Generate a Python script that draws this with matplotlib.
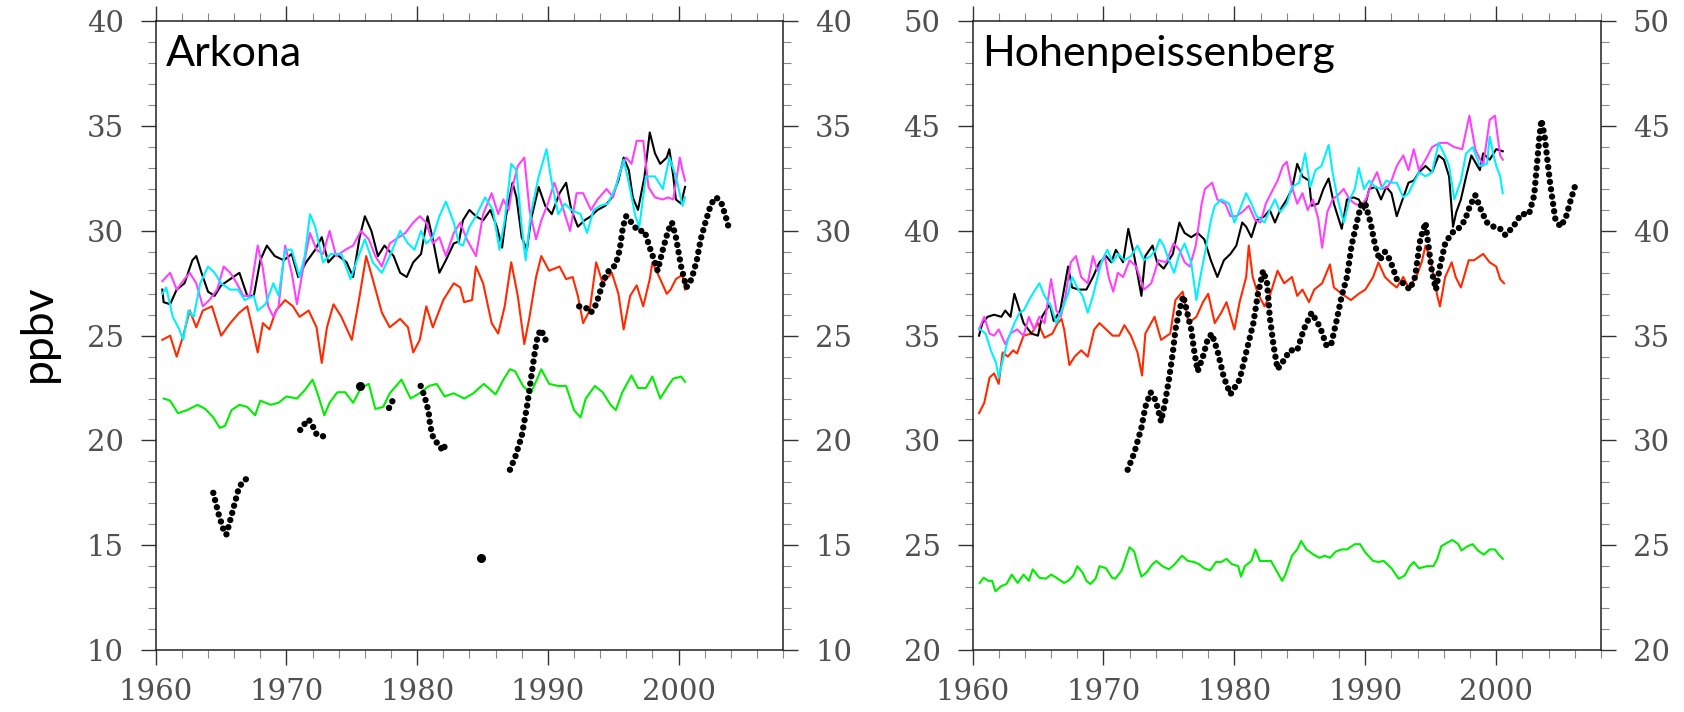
"""
Surface ozone at Arkona and Hohenpeissenberg: four model runs (black, magenta,
cyan, red), a background run (green) and the smoothed observations (dots).
Values are read off the published figure, roughly every half year.
"""

import numpy as np
import matplotlib
matplotlib.use("Agg")
import matplotlib.pyplot as plt
from matplotlib.ticker import MultipleLocator

# ---------------------------------------------------------------------------
# Arkona
# ---------------------------------------------------------------------------

ark_red_t = [1960.5, 1961.1, 1961.6, 1962.1, 1962.6, 1963.1, 1963.6, 1964.3, 1964.7, 1965.0,
             1965.7, 1966.4, 1967.0, 1967.3, 1967.8, 1968.2, 1968.7, 1969.2, 1969.9, 1970.5,
             1971.0, 1971.7, 1972.3, 1972.7, 1973.1, 1973.6, 1974.2, 1975.0, 1975.6, 1976.1,
             1976.6, 1977.3, 1977.9, 1978.7, 1979.3, 1979.7, 1980.2, 1980.7, 1981.2, 1982.0,
             1982.8, 1983.3, 1983.6, 1984.2, 1984.5, 1985.05, 1985.7, 1986.2, 1986.7, 1987.2,
             1987.7, 1988.2, 1988.6, 1989.1, 1989.5, 1990.1, 1990.9, 1991.4, 1991.9, 1992.3,
             1992.7, 1993.2, 1993.7, 1994.2, 1994.9, 1995.4, 1995.8, 1996.3, 1996.8, 1997.3,
             1997.8, 1998.0, 1998.6, 1999.1, 1999.4, 1999.8, 2000.3, 2000.5]
ark_red_v = [24.8, 25.0, 24.0, 25.0, 26.2, 25.4, 26.2, 26.4, 25.6, 25.0,
             25.6, 26.1, 26.4, 25.6, 24.2, 25.6, 25.3, 26.2, 26.7, 26.4,
             25.9, 26.2, 25.4, 23.7, 25.4, 26.5, 25.9, 24.8, 26.9, 28.8,
             27.7, 26.1, 25.4, 25.8, 25.4, 24.2, 24.8, 26.4, 25.4, 26.7,
             27.5, 27.3, 26.6, 26.7, 28.3, 27.5, 25.6, 25.1, 26.4, 28.5,
             26.9, 24.6, 25.9, 27.8, 28.8, 28.1, 28.3, 27.7, 27.8, 26.9,
             25.6, 26.2, 28.5, 27.5, 28.0, 27.0, 25.3, 26.9, 27.4, 26.4,
             27.7, 28.5, 27.7, 27.0, 27.2, 27.7, 27.9, 27.2]

ark_black_t = [1960.5, 1960.6, 1961.1, 1961.6, 1962.2, 1962.8, 1963.1, 1963.5, 1964.0, 1964.5,
               1965.0, 1965.7, 1966.4, 1967.0, 1967.5, 1968.0, 1968.5, 1969.1, 1969.8, 1970.4,
               1970.9, 1971.5, 1972.2, 1972.7, 1973.2, 1973.8, 1974.6, 1975.1, 1975.6, 1976.0,
               1976.5, 1977.0, 1977.5, 1978.2, 1978.7, 1979.2, 1979.7, 1980.3, 1980.8, 1981.2,
               1981.7, 1982.2, 1982.8, 1983.2, 1983.5, 1984.0, 1984.5, 1985.05, 1985.6, 1986.1,
               1986.5, 1986.8, 1987.3, 1987.6, 1988.0, 1988.4, 1988.7, 1989.3, 1989.8, 1990.3,
               1990.9, 1991.4, 1991.8, 1992.3, 1992.8, 1993.3, 1993.8, 1994.4, 1994.9, 1995.4,
               1995.8, 1996.2, 1996.5, 1996.9, 1997.4, 1997.8, 1998.2, 1998.6, 1999.1, 1999.3,
               1999.6, 1999.8, 2000.2, 2000.5]
ark_black_v = [27.2, 26.6, 26.5, 27.2, 27.5, 28.6, 28.8, 28.0, 27.1, 26.9,
               27.4, 27.7, 28.0, 26.9, 26.9, 28.6, 29.3, 28.8, 28.6, 28.9,
               27.8, 28.5, 29.1, 29.7, 28.5, 28.9, 28.5, 27.8, 29.7, 30.7,
               30.0, 28.8, 29.3, 28.8, 28.0, 27.8, 28.5, 28.9, 30.7, 29.6,
               28.0, 28.6, 29.4, 29.5, 30.5, 31.0, 30.7, 30.5, 31.0, 30.2,
               29.2, 30.7, 32.3, 31.6, 29.7, 29.1, 30.5, 32.1, 31.2, 30.8,
               31.8, 32.3, 31.0, 30.2, 30.5, 30.7, 31.0, 31.2, 31.6, 32.4,
               33.5, 32.9, 31.6, 31.0, 32.6, 34.7, 33.7, 33.2, 33.5, 33.9,
               32.6, 31.5, 31.3, 32.1]

ark_mag_t = [1960.5, 1961.1, 1961.6, 1962.2, 1962.6, 1963.1, 1963.6, 1964.1, 1964.7, 1965.2,
             1965.7, 1966.2, 1966.7, 1967.2, 1967.8, 1968.2, 1968.6, 1969.0, 1969.4, 1969.9,
             1970.4, 1970.8, 1971.3, 1971.8, 1972.3, 1972.8, 1973.3, 1973.8, 1974.5, 1975.1,
             1975.7, 1976.3, 1976.8, 1977.3, 1977.9, 1978.6, 1979.1, 1979.7, 1980.2, 1980.7,
             1981.2, 1981.7, 1982.2, 1982.8, 1983.3, 1983.8, 1984.5, 1985.05, 1985.7, 1986.2,
             1986.6, 1987.0, 1987.3, 1987.7, 1988.2, 1988.6, 1989.1, 1989.5, 1990.0, 1990.5,
             1991.2, 1991.7, 1992.2, 1992.7, 1993.3, 1993.8, 1994.5, 1995.0, 1995.5, 1996.0,
             1996.4, 1996.8, 1997.3, 1997.7, 1998.2, 1998.8, 1999.2, 1999.6, 2000.1, 2000.3,
             2000.5]
ark_mag_v = [27.6, 28.0, 27.2, 27.7, 28.0, 27.5, 26.4, 26.7, 27.2, 28.3,
             28.0, 27.5, 26.9, 26.9, 29.3, 28.2, 26.4, 25.9, 26.4, 29.3,
             28.0, 26.5, 28.3, 29.9, 29.1, 28.9, 30.0, 28.8, 29.1, 29.3,
             30.0, 29.6, 28.8, 28.3, 29.4, 29.7, 29.9, 30.4, 30.7, 30.4,
             29.4, 29.7, 28.8, 29.9, 30.4, 29.6, 28.8, 30.8, 31.8, 30.8,
             31.5, 31.0, 32.1, 33.1, 33.5, 31.0, 29.6, 30.5, 31.3, 32.3,
             31.0, 30.0, 31.8, 31.8, 31.0, 31.5, 32.0, 31.6, 32.8, 33.5,
             33.2, 34.3, 34.3, 32.1, 31.6, 31.5, 31.6, 31.5, 33.5, 32.9,
             32.4]

ark_cyan_t = [1960.5, 1960.8, 1961.3, 1961.8, 1962.1, 1962.5, 1962.9, 1963.4, 1964.0, 1964.5,
              1965.0, 1965.7, 1966.3, 1966.8, 1967.5, 1967.8, 1968.4, 1969.0, 1969.4, 1969.9,
              1970.4, 1971.0, 1971.4, 1971.8, 1972.2, 1972.8, 1973.4, 1974.2, 1974.9, 1975.4,
              1976.0, 1976.6, 1977.3, 1977.9, 1978.7, 1979.3, 1979.8, 1980.3, 1980.7, 1981.2,
              1981.7, 1982.2, 1982.8, 1983.2, 1983.5, 1984.0, 1984.5, 1985.2, 1985.8, 1986.3,
              1986.7, 1987.2, 1987.6, 1988.0, 1988.3, 1988.7, 1989.3, 1989.9, 1990.3, 1990.8,
              1991.3, 1991.8, 1992.5, 1993.0, 1993.5, 1994.0, 1994.6, 1995.2, 1995.8, 1996.2,
              1996.7, 1997.0, 1997.5, 1998.2, 1998.8, 1999.3, 1999.8, 2000.3, 2000.5]
ark_cyan_v = [27.0, 27.3, 25.9, 25.3, 24.8, 26.2, 25.9, 27.5, 28.3, 28.0,
              27.5, 27.2, 27.2, 26.7, 26.9, 26.2, 26.5, 27.5, 26.9, 29.1,
              29.1, 27.8, 28.8, 30.8, 30.2, 28.5, 28.9, 28.9, 27.7, 28.6,
              29.6, 28.5, 28.0, 28.8, 30.0, 29.4, 29.1, 30.0, 29.4, 29.7,
              30.7, 31.4, 30.4, 29.4, 29.3, 30.2, 30.7, 31.6, 31.0, 29.1,
              30.5, 33.2, 32.9, 30.2, 28.6, 30.8, 32.6, 33.9, 32.3, 30.8,
              31.3, 31.0, 30.8, 29.9, 31.0, 31.2, 31.3, 32.1, 33.4, 32.3,
              30.7, 30.2, 32.6, 32.6, 32.0, 33.5, 32.6, 31.2, 31.6]

ark_green_t = [1960.6, 1961.1, 1961.7, 1962.4, 1963.2, 1963.8, 1964.4, 1964.9, 1965.3, 1965.8,
               1966.4, 1967.0, 1967.6, 1968.0, 1968.8, 1969.4, 1970.0, 1970.8, 1971.4, 1972.0,
               1972.4, 1972.9, 1973.3, 1973.9, 1974.5, 1975.1, 1975.7, 1976.3, 1976.8, 1977.4,
               1977.9, 1978.8, 1979.5, 1980.3, 1980.9, 1981.5, 1982.1, 1982.8, 1983.6, 1984.3,
               1985.1, 1986.0, 1986.6, 1987.1, 1987.5, 1988.1, 1988.7, 1989.5, 1990.1, 1990.8,
               1991.4, 1992.0, 1992.5, 1992.9, 1993.6, 1994.2, 1994.8, 1995.2, 1995.7, 1996.4,
               1996.9, 1997.5, 1998.0, 1998.6, 1999.2, 1999.6, 2000.2, 2000.5]
ark_green_v = [22.0, 21.9, 21.3, 21.45, 21.7, 21.5, 21.1, 20.6, 20.7, 21.45,
               21.7, 21.6, 21.2, 21.9, 21.7, 21.8, 22.1, 22.0, 22.4, 22.9,
               22.2, 21.2, 21.8, 22.3, 22.3, 21.8, 22.5, 22.7, 21.5, 21.6,
               22.25, 22.9, 22.0, 22.3, 22.6, 22.7, 22.1, 22.25, 22.0, 22.25,
               22.7, 22.2, 22.9, 23.4, 23.3, 22.6, 22.25, 23.4, 22.7, 22.6,
               22.6, 21.45, 21.1, 22.0, 22.6, 22.3, 21.7, 21.45, 22.3, 23.1,
               22.5, 22.5, 23.05, 22.0, 22.6, 22.95, 23.05, 22.8]

# observations, NaN separates the record gaps
ark_obs_t = [1964.4, 1964.8, 1965.2, 1965.4, 1965.7, 1966.0, 1966.3, 1966.6, 1967.0, np.nan,
             1971.05, 1971.4, 1971.7, 1972.0, 1972.3, 1972.7, 1973.2, np.nan,
             1977.85, 1978.05, 1978.2, np.nan,
             1980.27, 1980.57, 1980.87, 1981.0, 1981.2, 1981.5, 1981.8, 1981.9, 1982.1, np.nan,
             1987.1, 1987.5, 1988.0, 1988.4, 1988.7, 1989.0, 1989.2, 1989.45, 1989.7, 1989.95, np.nan,
             1992.4, 1993.0, 1993.3, 1993.7, 1994.1, 1994.5, 1994.9, 1995.2, 1995.5, 1995.75,
             1996.0, 1996.4, 1996.9, 1997.4, 1997.8, 1998.2, 1998.4, 1998.8, 1999.2, 1999.5,
             1999.8, 2000.2, 2000.6, 2001.0, 2001.4, 2001.7, 2002.1, 2002.5, 2002.9, 2003.3,
             2003.7, 2003.9]
ark_obs_v = [17.5, 16.5, 15.7, 15.5, 16.2, 16.9, 17.6, 18.0, 18.2, np.nan,
             20.5, 20.8, 21.0, 20.7, 20.3, 20.2, 20.2, np.nan,
             21.55, 21.8, 22.0, np.nan,
             22.6, 22.1, 21.4, 20.7, 20.2, 19.9, 19.7, 19.5, 19.7, np.nan,
             18.6, 19.2, 20.2, 21.6, 22.9, 24.2, 24.9, 25.3, 25.0, 24.6, np.nan,
             26.4, 26.3, 26.1, 26.5, 27.3, 28.0, 28.2, 28.4, 29.1, 30.2,
             30.7, 30.4, 30.0, 30.0, 29.2, 28.5, 28.1, 29.1, 30.0, 30.4,
             29.7, 28.3, 27.3, 27.7, 28.6, 29.6, 30.5, 31.3, 31.6, 31.3,
             30.5, 30.0]
ark_single_t = [1975.6, 1984.9]
ark_single_v = [22.6, 14.4]

# ---------------------------------------------------------------------------
# Hohenpeissenberg
# ---------------------------------------------------------------------------

hoh_red_t = [1960.5, 1960.9, 1961.3, 1961.65, 1962.0, 1962.3, 1962.7, 1963.1, 1963.4, 1963.9,
             1964.5, 1965.0, 1965.5, 1966.1, 1966.5, 1966.8, 1967.0, 1967.4, 1967.8, 1968.3,
             1968.8, 1969.3, 1969.7, 1970.2, 1970.7, 1971.2, 1971.6, 1972.1, 1972.6, 1972.95,
             1973.2, 1973.9, 1974.4, 1975.1, 1975.5, 1976.05, 1976.5, 1977.1, 1977.6, 1978.0,
             1978.5, 1979.0, 1979.4, 1980.0, 1980.4, 1980.9, 1981.1, 1981.4, 1981.8, 1982.3,
             1982.7, 1983.3, 1983.8, 1984.4, 1984.8, 1985.2, 1985.7, 1986.1, 1986.7, 1987.3,
             1987.6, 1988.2, 1988.9, 1989.5, 1990.0, 1990.6, 1991.0, 1991.5, 1992.0, 1992.4,
             1992.9, 1993.3, 1993.9, 1994.3, 1994.6, 1995.0, 1995.5, 1995.7, 1996.1, 1996.6,
             1996.9, 1997.3, 1997.9, 1998.3, 1999.0, 1999.5, 2000.0, 2000.3, 2000.6]
hoh_red_v = [31.3, 31.8, 33.0, 33.2, 32.7, 34.2, 34.0, 34.3, 34.15, 35.0,
             35.1, 35.6, 34.9, 35.1, 35.6, 35.8, 35.3, 33.6, 34.0, 34.3,
             34.0, 35.3, 35.6, 35.3, 35.0, 35.0, 35.5, 35.0, 34.2, 33.1,
             35.1, 35.9, 34.8, 35.1, 36.7, 37.1, 35.6, 35.9, 36.6, 37.0,
             35.6, 36.1, 36.6, 35.3, 36.6, 37.8, 39.3, 37.8, 37.0, 36.4,
             36.9, 38.1, 37.5, 37.8, 36.9, 37.2, 36.6, 37.2, 37.5, 38.4,
             37.3, 37.0, 36.7, 37.0, 37.2, 37.8, 38.5, 37.8, 37.5, 37.3,
             37.8, 37.3, 37.8, 38.5, 39.3, 38.6, 36.9, 36.4, 37.8, 38.5,
             37.8, 37.3, 38.6, 38.6, 38.9, 38.5, 38.3, 37.7, 37.5]

hoh_black_t = [1960.5, 1960.75, 1961.15, 1961.65, 1962.2, 1962.5, 1962.9, 1963.2, 1963.6, 1963.9,
               1964.5, 1965.0, 1965.3, 1965.9, 1966.2, 1966.7, 1967.3, 1967.6, 1968.1, 1968.7,
               1969.2, 1969.7, 1970.2, 1970.6, 1970.95, 1971.5, 1971.9, 1972.35, 1972.9, 1973.2,
               1973.75, 1974.1, 1974.6, 1975.3, 1975.8, 1976.2, 1976.7, 1977.2, 1977.7, 1978.2,
               1978.7, 1979.2, 1979.7, 1980.15, 1980.6, 1980.9, 1981.3, 1981.7, 1982.3, 1982.7,
               1983.1, 1983.5, 1984.0, 1984.4, 1984.8, 1985.2, 1985.7, 1985.9, 1986.4, 1986.8,
               1987.2, 1987.6, 1988.2, 1988.6, 1989.1, 1989.5, 1989.9, 1990.3, 1990.8, 1991.2,
               1991.6, 1992.0, 1992.4, 1992.9, 1993.3, 1993.7, 1994.1, 1994.6, 1995.1, 1995.6,
               1996.0, 1996.4, 1996.7, 1996.95, 1997.3, 1997.7, 1998.1, 1998.75, 1999.0, 1999.5,
               2000.0, 2000.5]
hoh_black_v = [35.0, 35.6, 35.9, 36.0, 35.9, 36.2, 35.9, 37.0, 36.2, 35.6,
               35.1, 35.0, 35.9, 36.5, 35.7, 36.2, 38.3, 37.3, 37.2, 37.2,
               37.8, 38.5, 38.8, 38.5, 39.1, 38.5, 40.1, 38.8, 36.9, 38.8,
               39.3, 38.5, 38.2, 38.9, 40.4, 39.9, 39.7, 39.9, 39.6, 38.6,
               37.8, 38.6, 38.9, 39.3, 40.4, 40.2, 39.7, 40.5, 40.7, 41.0,
               40.4, 41.0, 41.5, 42.0, 43.2, 42.6, 42.4, 41.2, 41.3, 42.0,
               42.5, 41.3, 40.1, 41.5, 41.6, 41.5, 41.0, 42.0, 42.1, 41.5,
               42.1, 41.8, 40.7, 41.6, 42.3, 42.4, 42.8, 43.1, 42.8, 43.6,
               43.4, 42.6, 40.2, 40.9, 41.5, 42.6, 43.6, 42.9, 43.7, 43.4,
               43.9, 43.8]

hoh_mag_t = [1960.5, 1960.9, 1961.3, 1961.65, 1962.0, 1962.5, 1962.9, 1963.4, 1963.9, 1964.3,
             1964.7, 1965.1, 1965.5, 1966.0, 1966.4, 1966.75, 1967.1, 1967.5, 1967.9, 1968.3,
             1968.8, 1969.2, 1969.55, 1970.1, 1970.4, 1970.75, 1971.1, 1971.5, 1972.0, 1972.5,
             1973.1, 1973.65, 1974.2, 1974.8, 1975.35, 1975.8, 1976.2, 1976.6, 1977.05, 1977.5,
             1977.75, 1978.3, 1978.7, 1979.3, 1979.7, 1980.15, 1980.6, 1981.1, 1981.6, 1982.0,
             1982.4, 1982.8, 1983.3, 1983.7, 1984.0, 1984.4, 1984.8, 1985.2, 1985.6, 1986.0,
             1986.4, 1986.7, 1987.1, 1987.5, 1987.9, 1988.35, 1988.8, 1989.2, 1989.6, 1990.05,
             1990.5, 1990.9, 1991.3, 1991.7, 1992.0, 1992.4, 1992.9, 1993.3, 1993.7, 1994.1,
             1994.6, 1995.1, 1995.7, 1996.25, 1996.8, 1997.4, 1997.95, 1998.4, 1999.0, 1999.5,
             1999.9, 2000.3, 2000.5]
hoh_mag_v = [35.3, 35.9, 35.1, 35.0, 35.3, 34.6, 35.1, 35.3, 35.0, 35.9,
             35.3, 35.9, 35.6, 37.7, 36.2, 35.9, 36.9, 38.5, 38.8, 37.8,
             37.5, 38.8, 38.1, 38.8, 37.8, 37.1, 38.0, 37.8, 38.6, 38.3,
             37.2, 37.5, 38.6, 38.5, 39.4, 39.1, 38.5, 38.3, 39.3, 41.3,
             42.0, 42.3, 41.5, 41.3, 40.7, 40.7, 40.9, 41.2, 40.5, 40.4,
             41.3, 41.8, 42.4, 43.1, 43.3, 42.1, 41.3, 41.8, 41.0, 41.5,
             40.6, 39.2, 40.9, 41.5, 41.7, 42.0, 41.5, 41.3, 41.2, 41.5,
             42.3, 42.8, 42.0, 42.1, 42.4, 43.1, 43.6, 42.9, 43.9, 42.9,
             43.4, 44.0, 44.2, 44.2, 44.0, 43.9, 45.5, 43.9, 43.1, 45.3,
             45.5, 43.6, 43.4]

hoh_cyan_t = [1960.5, 1961.0, 1961.4, 1961.8, 1962.0, 1962.3, 1962.7, 1963.2, 1963.6, 1963.9,
              1964.5, 1965.1, 1965.5, 1966.0, 1966.4, 1966.75, 1967.3, 1967.6, 1968.0, 1968.4,
              1968.8, 1969.2, 1969.55, 1969.9, 1970.3, 1970.7, 1971.1, 1971.6, 1972.1, 1972.6,
              1973.1, 1973.6, 1974.0, 1974.3, 1974.6, 1975.0, 1975.4, 1975.8, 1976.2, 1976.7,
              1977.1, 1977.4, 1977.8, 1978.2, 1978.5, 1979.0, 1979.6, 1980.0, 1980.4, 1980.9,
              1981.3, 1981.7, 1982.3, 1982.7, 1983.1, 1983.5, 1984.0, 1984.4, 1984.95, 1985.4,
              1985.8, 1986.2, 1986.65, 1987.2, 1987.5, 1987.9, 1988.35, 1988.8, 1989.2, 1989.5,
              1989.9, 1990.3, 1990.75, 1991.2, 1991.6, 1992.0, 1992.4, 1992.9, 1993.3, 1993.7,
              1994.1, 1994.6, 1995.1, 1995.6, 1996.0, 1996.4, 1996.8, 1997.3, 1997.7, 1998.2,
              1998.75, 1999.3, 1999.5, 1999.8, 2000.0, 2000.3, 2000.5]
hoh_cyan_v = [35.35, 35.1, 34.3, 33.7, 33.0, 33.8, 34.8, 35.6, 36.1, 36.2,
              36.9, 37.5, 36.9, 36.4, 35.6, 36.1, 37.0, 37.8, 37.3, 36.9,
              36.1, 36.9, 37.8, 38.6, 39.1, 38.5, 38.9, 38.6, 38.8, 39.3,
              38.6, 38.8, 39.1, 39.6, 39.3, 38.6, 38.0, 38.9, 39.4, 38.5,
              36.7, 37.8, 39.1, 40.5, 41.2, 41.5, 41.3, 40.4, 41.0, 41.8,
              41.3, 40.7, 40.4, 41.0, 41.5, 40.9, 41.3, 42.1, 42.3, 43.7,
              42.1, 42.9, 43.1, 44.1, 42.8, 41.5, 40.4, 41.5, 42.0, 43.0,
              42.0, 42.4, 42.1, 42.0, 42.4, 42.3, 42.3, 41.6, 41.8, 42.3,
              42.8, 42.6, 42.8, 44.2, 43.7, 43.1, 41.5, 42.4, 43.7, 44.0,
              43.1, 43.2, 44.5, 43.6, 43.1, 42.6, 41.8]

hoh_green_t = [1960.55, 1960.85, 1961.2, 1961.5, 1961.75, 1962.2, 1962.6, 1963.0, 1963.45, 1963.9,
               1964.3, 1964.6, 1965.1, 1965.6, 1966.0, 1966.4, 1967.0, 1967.3, 1967.7, 1968.0,
               1968.4, 1968.7, 1969.0, 1969.4, 1969.7, 1970.2, 1970.65, 1970.9, 1971.4, 1971.8,
               1972.0, 1972.35, 1972.7, 1972.9, 1973.3, 1973.75, 1974.05, 1974.5, 1975.0, 1975.45,
               1976.0, 1976.45, 1976.9, 1977.3, 1977.7, 1978.15, 1978.6, 1979.0, 1979.4, 1979.8,
               1980.3, 1980.5, 1980.8, 1981.3, 1981.6, 1981.95, 1982.4, 1982.8, 1983.2, 1983.65,
               1983.9, 1984.4, 1984.8, 1985.1, 1985.5, 1986.05, 1986.5, 1986.9, 1987.3, 1987.75,
               1988.2, 1988.6, 1989.2, 1989.6, 1990.0, 1990.6, 1991.0, 1991.4, 1992.0, 1992.55,
               1993.0, 1993.4, 1993.7, 1994.1, 1994.7, 1995.2, 1995.5, 1995.8, 1996.2, 1996.65,
               1997.1, 1997.35, 1997.8, 1998.2, 1998.6, 1999.05, 1999.5, 1999.9, 2000.2, 2000.5]
hoh_green_v = [23.2, 23.45, 23.3, 23.3, 22.8, 23.05, 23.15, 23.6, 23.2, 23.6,
               23.3, 23.85, 23.45, 23.4, 23.6, 23.45, 23.2, 23.3, 23.55, 24.0,
               23.7, 23.3, 23.15, 23.4, 24.0, 23.9, 23.45, 23.4, 23.8, 24.55,
               24.9, 24.7, 23.9, 23.5, 23.7, 24.1, 24.25, 24.0, 23.85, 24.1,
               24.5, 24.25, 24.2, 24.1, 23.9, 23.8, 24.2, 24.2, 24.35, 24.1,
               24.0, 23.5, 24.0, 24.25, 24.8, 24.25, 24.25, 24.25, 23.8, 23.3,
               23.6, 24.5, 24.8, 25.2, 24.8, 24.55, 24.4, 24.5, 24.4, 24.7,
               24.8, 24.8, 25.05, 25.05, 24.65, 24.25, 24.2, 24.25, 23.9, 23.4,
               23.55, 24.0, 24.2, 23.9, 24.0, 24.0, 24.35, 24.95, 25.1, 25.25,
               25.05, 24.75, 24.95, 25.05, 24.75, 24.55, 24.8, 24.8, 24.55, 24.35]

hoh_obs_t = [1971.85, 1972.35, 1972.9, 1973.2, 1973.6, 1974.0, 1974.4, 1974.7, 1975.0, 1975.3,
             1975.5, 1975.8, 1976.1, 1976.4, 1976.7, 1976.95, 1977.2, 1977.6, 1977.95, 1978.27,
             1978.7, 1979.2, 1979.7, 1980.4, 1980.9, 1981.45, 1981.8, 1982.2, 1982.5, 1982.7,
             1983.0, 1983.3, 1983.75, 1984.25, 1984.8, 1985.3, 1985.9, 1986.55, 1987.05, 1987.4,
             1987.8, 1988.2, 1988.6, 1988.95, 1989.35, 1989.7, 1990.0, 1990.4, 1990.75, 1991.1,
             1991.5, 1991.9, 1992.4, 1992.9, 1993.4, 1993.8, 1994.2, 1994.6, 1994.8, 1995.1,
             1995.4, 1995.7, 1996.1, 1996.6, 1997.1, 1997.6, 1998.0, 1998.4, 1998.9, 1999.3,
             1999.8, 2000.3, 2000.7, 2001.3, 2001.9, 2002.5, 2002.9, 2003.3, 2003.45, 2003.7,
             2004.1, 2004.5, 2004.9, 2005.3, 2005.7, 2006.0]
hoh_obs_v = [28.6, 29.4, 30.6, 31.6, 32.3, 31.9, 30.9, 31.8, 32.9, 34.2,
             35.3, 36.2, 36.9, 36.1, 35.3, 34.2, 33.3, 34.0, 34.8, 35.1,
             34.3, 33.0, 32.2, 32.9, 34.2, 35.6, 37.0, 38.1, 37.5, 35.9,
             34.5, 33.4, 33.8, 34.3, 34.3, 35.3, 36.1, 35.4, 34.5, 34.6,
             35.7, 36.9, 37.8, 39.3, 40.4, 41.3, 41.3, 40.4, 39.3, 38.6,
             39.0, 38.6, 37.7, 37.5, 37.2, 37.8, 39.6, 40.4, 39.4, 38.0,
             37.2, 38.3, 39.4, 39.9, 40.1, 40.5, 41.2, 41.7, 40.9, 40.4,
             40.2, 40.1, 39.8, 40.2, 40.8, 40.8, 41.7, 44.5, 45.3, 44.5,
             42.35, 40.6, 40.2, 40.6, 41.5, 42.1]

COLORS = {"black": "black", "mag": "#ff40ff", "cyan": "#00f0ff",
          "red": "#ff2a00", "green": "#00ee00"}
TICK_FONT = dict(family="DejaVu Serif", size=21, color="#505050")


def style_axis(ax, ylim):
    ax.set_xlim(1960, 2008)
    ax.set_ylim(*ylim)
    ax.set_xticks(range(1960, 2001, 10))
    ax.set_yticks(range(ylim[0], ylim[1] + 1, 5))
    ax.xaxis.set_minor_locator(MultipleLocator(2))
    ax.yaxis.set_minor_locator(MultipleLocator(1))
    ax.tick_params(which="both", direction="out", top=True, right=True,
                   labelright=True, labeltop=False)
    ax.tick_params(which="major", length=11, width=1.0, color="#333333")
    ax.tick_params(which="minor", length=5.5, width=0.8, color="#888888")
    ax.tick_params(axis="y", which="major", pad=12)
    ax.tick_params(axis="x", which="major", pad=9)
    labels = ax.get_xticklabels() + [t.label1 for t in ax.yaxis.get_major_ticks()] \
        + [t.label2 for t in ax.yaxis.get_major_ticks()]
    for lab in labels:
        lab.set_fontfamily(TICK_FONT["family"])
        lab.set_fontsize(TICK_FONT["size"])
        lab.set_color(TICK_FONT["color"])
    for sp in ax.spines.values():
        sp.set_linewidth(1.1)
        sp.set_color("#222222")


def draw_panel(ax, name, series, obs_t, obs_v, single_t=None, single_v=None):
    for key, (t, v) in series.items():
        ax.plot(t, v, color=COLORS[key], lw=1.5, zorder=2)
    ax.plot(obs_t, obs_v, color="black", lw=4.6, linestyle=(0, (0.01, 1.15)),
            dash_capstyle="round", zorder=3)
    if single_t:
        ax.plot(single_t, single_v, "o", color="black", ms=5.5, zorder=3)
    ax.text(0.016, 0.978, name, transform=ax.transAxes, ha="left", va="top",
            fontsize=31, family="Lato")


def main():
    fig = plt.figure(figsize=(16.84, 7.12), dpi=100)
    ax1 = fig.add_axes([0.0925, 0.0871, 0.3725, 0.8829])
    ax2 = fig.add_axes([0.5775, 0.0871, 0.3732, 0.8829])

    draw_panel(ax1, "Arkona",
               {"red": (ark_red_t, ark_red_v), "green": (ark_green_t, ark_green_v),
                "black": (ark_black_t, ark_black_v), "mag": (ark_mag_t, ark_mag_v),
                "cyan": (ark_cyan_t, ark_cyan_v)},
               ark_obs_t, ark_obs_v, ark_single_t, ark_single_v)
    draw_panel(ax2, "Hohenpeissenberg",
               {"red": (hoh_red_t, hoh_red_v), "green": (hoh_green_t, hoh_green_v),
                "black": (hoh_black_t, hoh_black_v), "mag": (hoh_mag_t, hoh_mag_v),
                "cyan": (hoh_cyan_t, hoh_cyan_v)},
               hoh_obs_t, hoh_obs_v)

    style_axis(ax1, (10, 40))
    style_axis(ax2, (20, 50))

    fig.text(0.0226, 0.532, "ppbv", rotation=90, ha="center", va="center",
             fontsize=32, family="Lato")

    fig.savefig("out.png", dpi=100)


if __name__ == "__main__":
    main()
